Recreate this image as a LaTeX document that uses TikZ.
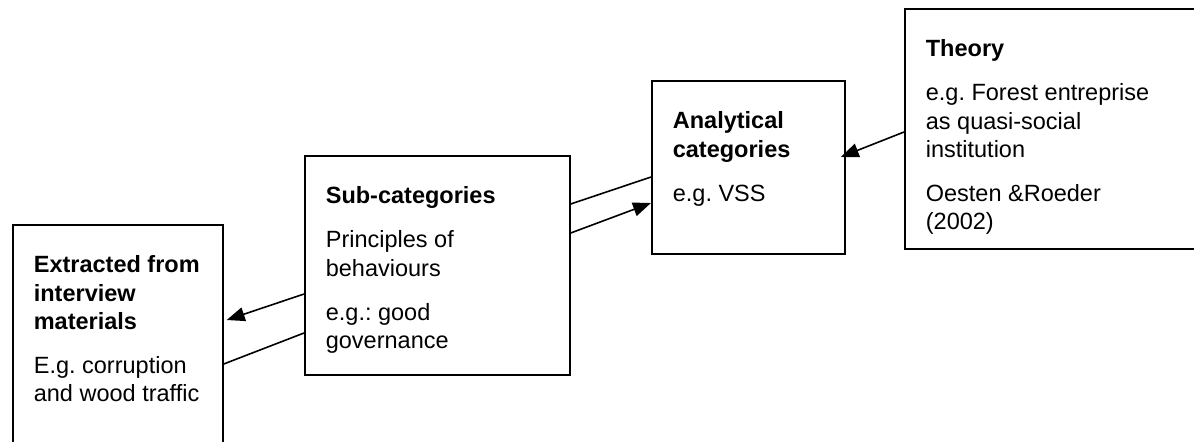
\documentclass[tikz,border=0pt]{standalone}
\usepackage{fontspec}
\setmainfont{Liberation Sans}
\usetikzlibrary{calc,arrows.meta}
\frenchspacing

\newcommand{\pgap}{\par\vspace{7.85pt}}
\newcommand{\boxtext}[3]{\hspace*{10.5pt}\parbox[t][#2][t]{#1}{\fontsize{11.75pt}{14.15pt}\selectfont\rule{0pt}{24pt}#3}}

\begin{document}
\begin{tikzpicture}[x=0.5pt,y=-0.5pt,
  bx/.style={draw,line width=0.85pt,inner sep=0pt,anchor=north west},
  ln/.style={line width=0.8pt},
  arr/.style={line width=0.8pt,-{Triangle[length=9pt,width=7pt]}}]
\useasboundingbox (0,0) rectangle (1194,441);
\clip (0,0) rectangle (1194,441);
% boxes
\node[bx] (extr) at (12,224) {\boxtext{94.5pt}{130pt}{{\bfseries Extracted from\\interview\\materials}\pgap E.g. corruption\\and wood traffic}};
\node[bx] (sub) at (304,155) {\boxtext{122pt}{109.5pt}{{\bfseries Sub-categories}\pgap Principles of\\behaviours\pgap e.g.: good\\governance}};
\node[bx] (ana) at (651,80) {\boxtext{86pt}{86.5pt}{{\bfseries Analytical\\categories}\pgap e.g. VSS}};
\node[bx] (theo) at (904,8) {\boxtext{152.5pt}{120pt}{{\bfseries Theory}\pgap e.g. Forest entreprise\\as quasi-social\\institution\pgap Oesten \&Roeder\\(2002)}};
% connectors
\draw[arr] ($(sub.north west)+(0,139)$) -- ($(extr.north east)+(3,96)$);
\draw[ln] ($(sub.north west)+(0,178)$) -- ($(extr.north east)+(0,140)$);
\draw[ln] ($(sub.north east)+(0,49)$) -- ($(ana.north west)+(0,97)$);
\draw[arr] ($(sub.north east)+(0,78)$) -- ($(ana.north west)+(0,123)$);
\draw[arr] ($(theo.north west)+(0,124)$) -- ($(ana.north east)+(-5,77)$);
\end{tikzpicture}
\end{document}
